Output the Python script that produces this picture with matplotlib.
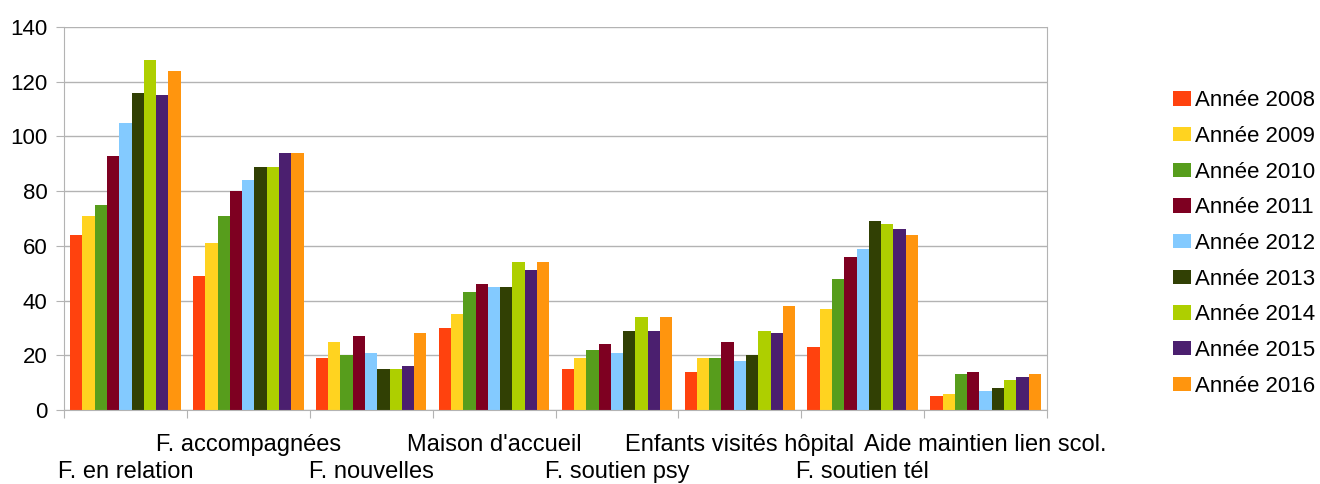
import matplotlib
matplotlib.use("Agg")
import matplotlib.pyplot as plt
import numpy as np

plt.rcParams['font.family'] = ['Liberation Sans', 'DejaVu Sans']

categories = ["F. en relation", "F. accompagnées", "F. nouvelles", "Maison d'accueil",
              "F. soutien psy", "Enfants visités hôpital", "F. soutien tél",
              "Aide maintien lien scol."]
years = ["Année 2008", "Année 2009", "Année 2010", "Année 2011", "Année 2012",
         "Année 2013", "Année 2014", "Année 2015", "Année 2016"]

# one list per year, one value per category
y2008 = [64, 49, 19, 30, 15, 14, 23, 5]
y2009 = [71, 61, 25, 35, 19, 19, 37, 6]
y2010 = [75, 71, 20, 43, 22, 19, 48, 13]
y2011 = [93, 80, 27, 46, 24, 25, 56, 14]
y2012 = [105, 84, 21, 45, 21, 18, 59, 7]
y2013 = [116, 89, 15, 45, 29, 20, 69, 8]
y2014 = [128, 89, 15, 54, 34, 29, 68, 11]
y2015 = [115, 94, 16, 51, 29, 28, 66, 12]
y2016 = [124, 94, 28, 54, 34, 38, 64, 13]
series = [y2008, y2009, y2010, y2011, y2012, y2013, y2014, y2015, y2016]

colors = ['#ff420e', '#ffd320', '#579d1c', '#7e0021', '#83caff',
          '#314004', '#aecf00', '#4b1f6f', '#ff950e']

fig = plt.figure(figsize=(13.2, 4.84), dpi=100)
ax = fig.add_axes([64 / 1320, 74 / 484, 983 / 1320, 383 / 484])

n = len(series)
width = 0.1
x = np.arange(len(categories)) + 0.5
for i, (vals, col, lab) in enumerate(zip(series, colors, years)):
    ax.bar(x + (i - (n - 1) / 2) * width, vals, width, color=col, label=lab, zorder=2)

ax.set_xlim(0, len(categories))
ax.set_ylim(0, 140)
ax.set_yticks(range(0, 141, 20))
ax.grid(axis='y', color='#b3b3b3', linewidth=1, zorder=0)

# group boundaries as ticks, category names staggered on two rows
ax.set_xticks(np.arange(len(categories) + 1))
ax.set_xticklabels([])
for i, c in enumerate(categories):
    off = -37 if i % 2 == 0 else -17.5
    ax.annotate(c, xy=(x[i], 0), xycoords=('data', 'axes fraction'),
                xytext=(0, off), textcoords='offset points',
                ha='center', va='top', fontsize=17)

ax.tick_params(axis='x', length=6, color='#b3b3b3')
ax.tick_params(axis='y', length=6, color='#b3b3b3', labelsize=16, pad=6)

for s in ['left', 'bottom', 'right']:
    ax.spines[s].set_color('#b3b3b3')
ax.spines['top'].set_visible(False)

ax.legend(loc='center left', bbox_to_anchor=(1.119, 0.435), frameon=False, fontsize=16,
          handlelength=0.8, handleheight=0.62, handletextpad=0.2, labelspacing=0.66,
          borderaxespad=0)

fig.savefig("out.png", dpi=100)
